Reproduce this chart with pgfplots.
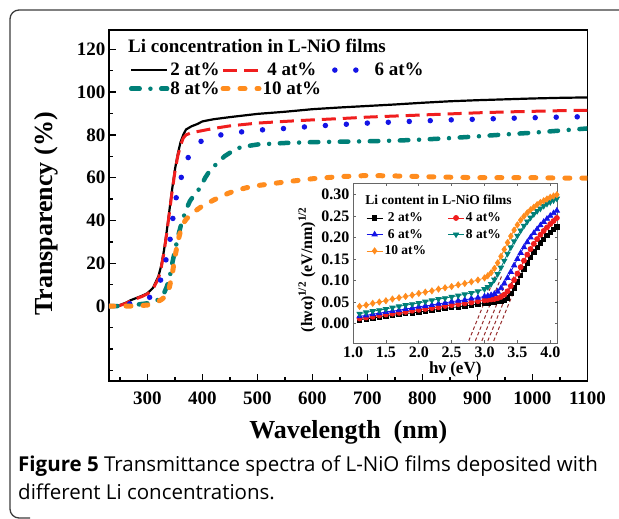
\documentclass[border=0pt]{standalone}
\usepackage{fontspec}
\setmainfont{Liberation Serif}
\newfontfamily\capfont{Open Sans}
\usepackage{pgfplots}
\pgfplotsset{compat=1.18}
\definecolor{cred}{RGB}{240,30,30}
\definecolor{cblue}{RGB}{20,20,230}
\definecolor{cteal}{RGB}{0,128,120}
\definecolor{corange}{RGB}{255,140,30}
\definecolor{cbrown}{RGB}{150,45,45}
\definecolor{cframe}{RGB}{60,60,60}
\begin{document}
\begin{tikzpicture}[x=1pt,y=1pt]
\useasboundingbox (0,0) rectangle (619,519);
\draw[line width=1.3pt, cframe, rounded corners=9pt] (640,509) -- (10,509) -- (10,1) -- (30,1);
\begin{axis}[
  at={(109pt,138pt)}, anchor=south west, scale only axis,
  width=478.5pt, height=351pt,
  xmin=230, xmax=1100, ymin=-35, ymax=129,
  axis line style={line width=1.6pt},
  xtick={300,400,...,1100}, minor xtick={250,350,...,1050},
  ytick={0,20,...,120}, minor ytick={-30,-20,-10,10,30,50,70,90,110},
  tick align=inside, xtick pos=bottom, ytick pos=left,
  major tick length=7pt, minor tick length=4pt,
  every tick/.style={line width=1.4pt, black},
  /pgf/number format/assume math mode=true,
  /pgf/number format/set thousands separator={},
  ticklabel style={font=\fontsize{19}{19}\selectfont\bfseries},
  xticklabel style={yshift=-7pt},
  xlabel={Wavelength\ \ (nm)}, ylabel={Transparency (\%)},
  xlabel style={at={(axis description cs:0.5,-0.145)}, anchor=center, font=\fontsize{26}{26}\selectfont\bfseries},
  ylabel style={at={(axis description cs:-0.132,0.476)}, anchor=center, font=\fontsize{26}{26}\selectfont\bfseries},
  legend columns=3,
  legend style={draw=none, fill=none, at={(axis description cs:0.035,0.915)}, anchor=north west,
    font=\fontsize{19}{19}\selectfont\bfseries, row sep=2.5pt,
    nodes={inner sep=1pt},
    column 2/.style={column sep=38pt}, column 4/.style={column sep=32pt}},
  legend image code/.code={\draw[#1] (0pt,0pt) -- (36pt,0pt);},
  clip=true,
]
\addplot[black, line width=2.2pt] coordinates {(230,0)(240,0)(250,0.5)(260,1.5)(270,2.8)(280,3.8)(290,4.8)(300,6)(310,8.5)(320,14)(325,19)(330,26)(335,35)(340,45)(345,55)(350,64)(355,71)(360,76.5)(365,80)(370,82.5)(380,84)(390,85)(400,86.3)(420,87.3)(450,88.3)(500,89.8)(550,90.8)(600,92)(650,92.8)(700,93.5)(750,94.2)(800,95)(850,95.7)(900,96.2)(950,96.6)(1000,97)(1050,97.3)(1100,97.5)};
\addlegendentry{2 at\%}
\addplot[cred, line width=3pt, dash pattern=on 14pt off 7pt] coordinates {(245,0)(250,0.3)(260,1.2)(270,2.5)(280,3.5)(290,4.5)(300,5.7)(310,8)(320,13)(325,18)(330,25)(335,34)(340,44)(345,54)(350,63)(355,70)(360,75)(365,78.5)(370,80)(380,81)(390,81.5)(400,82)(420,83)(450,84.2)(500,85.5)(550,86.3)(600,87)(650,87.6)(700,88.3)(750,88.8)(800,89.3)(850,89.8)(900,90.3)(950,90.7)(1000,91)(1050,91.3)(1100,91.5)};
\addlegendentry{4 at\%\hspace*{10pt}}
\addplot[cblue, line width=5.5pt, line cap=round, dash pattern=on 0pt off 21pt] coordinates {(230,0)(250,0)(260,0.5)(270,1.3)(280,2)(290,2.8)(300,3.5)(310,5)(315,7)(320,9.5)(325,13)(330,18)(335,23)(340,29)(345,39)(350,48)(355,54)(360,59)(365,63)(370,67)(375,70)(380,72.5)(390,75.5)(400,77.5)(420,79.3)(450,80.8)(500,82.2)(550,83)(600,84)(650,84.8)(700,85.5)(750,86)(800,86.5)(850,87)(900,87.3)(950,87.7)(1000,88)(1050,88.3)(1100,88.5)};
\addlegendentry{6 at\%}
\addplot[cteal, line width=4.5pt, line cap=round, dash pattern=on 8.5pt off 10.75pt on 0pt off 10.75pt] coordinates {(230,0)(250,0)(270,0.3)(290,1)(300,1.3)(310,2)(320,3)(325,4)(330,6)(335,9)(340,13)(345,20)(350,26)(355,32)(360,37)(365,41)(370,45)(377,49)(385,52)(395,55)(405,60)(415,64)(426,66.5)(440,70)(455,72.5)(470,74.3)(500,75.5)(550,76.2)(600,76.6)(650,76.8)(700,77)(750,77.3)(800,77.8)(850,78.5)(900,79.3)(950,80.2)(1000,81)(1050,82)(1100,83)};
\addlegendentry{8 at\%}
\addplot[corange, line width=5pt, line cap=round, dash pattern=on 5pt off 12pt] coordinates {(230,0)(260,0)(280,0)(300,0.5)(310,1.5)(320,2.3)(325,3)(330,4)(335,6)(340,9)(345,15)(350,23)(355,30)(360,35)(365,38.5)(370,40.5)(380,43)(390,45)(400,46.8)(420,49.5)(440,52)(460,54)(480,55.3)(500,56.3)(550,58)(600,59.5)(650,60.5)(700,61)(750,60.8)(800,60.5)(850,60.2)(900,60)(950,60)(1000,60)(1050,59.8)(1100,59.8)};
\addlegendentry{10 at\%\hspace*{10pt}}
\node[anchor=west, inner sep=0pt, font=\fontsize{19}{19}\selectfont\bfseries] at (axis description cs:0.0397,0.955) {Li concentration in L-NiO films};
\end{axis}
\begin{axis}[
  at={(353pt,176pt)}, anchor=south west, scale only axis,
  width=204.5pt, height=159.5pt,
  xmin=1.0, xmax=4.11, ymin=-0.045, ymax=0.325,
  axis line style={line width=0.8pt, black!60},
  xtick={1.0,1.5,...,4.0}, ytick={0,0.05,...,0.30},
  tick align=inside, major tick length=2.5pt,
  every tick/.style={line width=0.6pt, black!60},
  /pgf/number format/assume math mode=true,
  ticklabel style={font=\fontsize{16}{16}\selectfont\bfseries},
  xticklabel style={/pgf/number format/.cd, fixed, fixed zerofill, precision=1},
  yticklabel style={/pgf/number format/.cd, fixed, fixed zerofill, precision=2},
  xlabel={hν (eV)}, ylabel={(hνα)\textsuperscript{1/2} (eV/nm)\textsuperscript{1/2}},
  xlabel style={at={(axis description cs:0.5,-0.165)}, anchor=center, font=\fontsize{17}{17}\selectfont\bfseries},
  ylabel style={at={(axis description cs:-0.225,0.46)}, anchor=center, font=\fontsize{16}{16}\selectfont\bfseries},
  legend columns=2,
  legend style={draw=none, fill=none, at={(axis description cs:0.049,0.84)}, anchor=north west,
    font=\fontsize{13.5}{13.5}\selectfont\bfseries, row sep=3pt, nodes={inner sep=1.5pt}},
  /tikz/every even column/.append style={column sep=20pt},
  legend image code/.code={\draw[mark repeat=2, mark phase=2, #1] plot coordinates {(0pt,0pt) (8pt,0pt) (16pt,0pt)};},
]
\addplot[black, line width=0.8pt, mark=square*, mark size=2.2pt] coordinates {(1.1,.009)(1.2,.011)(1.3,.013)(1.4,.015)(1.5,.017)(1.6,.019)(1.7,.021)(1.8,.023)(1.9,.025)(2.0,.027)(2.1,.029)(2.2,.031)(2.3,.033)(2.4,.035)(2.5,.037)(2.6,.039)(2.7,.041)(2.8,.043)(2.9,.045)(3.0,.047)(3.05,.048)(3.1,.049)(3.15,.050)(3.2,.051)(3.25,.052)(3.3,.054)(3.35,.060)(3.4,.070)(3.45,.083)(3.5,.097)(3.55,.112)(3.6,.127)(3.65,.141)(3.7,.154)(3.75,.166)(3.8,.177)(3.85,.187)(3.9,.196)(3.95,.204)(4.0,.211)(4.05,.218)(4.1,.224)};
\addlegendentry{2 at\%}
\addplot[cred, line width=0.8pt, mark=*, mark size=2.5pt] coordinates {(1.1,.012)(1.2,.014)(1.3,.016)(1.4,.019)(1.5,.021)(1.6,.023)(1.7,.025)(1.8,.027)(1.9,.030)(2.0,.032)(2.1,.034)(2.2,.036)(2.3,.038)(2.4,.041)(2.5,.043)(2.6,.045)(2.7,.047)(2.8,.049)(2.9,.052)(3.0,.054)(3.05,.055)(3.1,.056)(3.15,.057)(3.2,.059)(3.25,.062)(3.3,.067)(3.35,.075)(3.4,.087)(3.45,.101)(3.5,.116)(3.55,.131)(3.6,.146)(3.65,.160)(3.7,.173)(3.75,.185)(3.8,.196)(3.85,.206)(3.9,.215)(3.95,.223)(4.0,.231)(4.05,.238)(4.1,.245)};
\addlegendentry{4 at\%}
\addplot[cblue, line width=0.8pt, mark=triangle*, mark size=3pt] coordinates {(1.1,.017)(1.2,.019)(1.3,.022)(1.4,.024)(1.5,.027)(1.6,.029)(1.7,.031)(1.8,.034)(1.9,.036)(2.0,.039)(2.1,.041)(2.2,.043)(2.3,.046)(2.4,.048)(2.5,.051)(2.6,.053)(2.7,.055)(2.8,.058)(2.9,.060)(3.0,.063)(3.05,.064)(3.1,.066)(3.15,.069)(3.2,.074)(3.25,.082)(3.3,.093)(3.35,.106)(3.4,.120)(3.45,.135)(3.5,.150)(3.55,.164)(3.6,.177)(3.65,.189)(3.7,.200)(3.75,.210)(3.8,.219)(3.85,.228)(3.9,.236)(3.95,.243)(4.0,.250)(4.05,.256)(4.1,.262)};
\addlegendentry{6 at\%}
\addplot[cteal, line width=0.8pt, mark=triangle*, mark size=3pt, mark options={rotate=180}] coordinates {(1.1,.023)(1.2,.026)(1.3,.029)(1.4,.031)(1.5,.034)(1.6,.037)(1.7,.040)(1.8,.043)(1.9,.045)(2.0,.048)(2.1,.051)(2.2,.054)(2.3,.057)(2.4,.059)(2.5,.062)(2.6,.065)(2.7,.068)(2.8,.071)(2.9,.075)(3.0,.080)(3.05,.085)(3.1,.092)(3.15,.102)(3.2,.115)(3.25,.130)(3.3,.146)(3.35,.162)(3.4,.177)(3.45,.191)(3.5,.204)(3.55,.216)(3.6,.227)(3.65,.237)(3.7,.246)(3.75,.254)(3.8,.261)(3.85,.267)(3.9,.273)(3.95,.278)(4.0,.282)(4.05,.286)(4.1,.290)};
\addlegendentry{8 at\%}
\addplot[corange, line width=0.8pt, mark=diamond*, mark size=3pt] coordinates {(1.1,.040)(1.2,.043)(1.3,.047)(1.4,.050)(1.5,.053)(1.6,.057)(1.7,.060)(1.8,.063)(1.9,.066)(2.0,.070)(2.1,.073)(2.2,.076)(2.3,.080)(2.4,.083)(2.5,.086)(2.6,.090)(2.7,.093)(2.8,.097)(2.9,.101)(3.0,.106)(3.05,.111)(3.1,.118)(3.15,.128)(3.2,.141)(3.25,.156)(3.3,.172)(3.35,.188)(3.4,.203)(3.45,.217)(3.5,.229)(3.55,.240)(3.6,.249)(3.65,.257)(3.7,.264)(3.75,.270)(3.8,.276)(3.85,.281)(3.9,.285)(3.95,.289)(4.0,.293)(4.05,.296)(4.1,.299)};
\addlegendentry{10 at\%}
\addplot[cbrown, line width=1pt, dash pattern=on 3.5pt off 2.5pt, forget plot] coordinates {(2.76,-0.04)(3.16,0.11)};
\addplot[cbrown, line width=1pt, dash pattern=on 3.5pt off 2.5pt, forget plot] coordinates {(2.86,-0.04)(3.26,0.11)};
\addplot[cbrown, line width=1pt, dash pattern=on 3.5pt off 2.5pt, forget plot] coordinates {(2.96,-0.04)(3.36,0.11)};
\addplot[cbrown, line width=1pt, dash pattern=on 3.5pt off 2.5pt, forget plot] coordinates {(3.05,-0.04)(3.45,0.11)};
\addplot[cbrown, line width=1pt, dash pattern=on 3.5pt off 2.5pt, forget plot] coordinates {(3.14,-0.04)(3.54,0.11)};
\node[anchor=west, inner sep=0pt, font=\fontsize{13.5}{13.5}\selectfont\bfseries] at (axis description cs:0.06,0.898) {Li content in L-NiO films};
\end{axis}
\node[anchor=west, inner sep=0pt, font=\capfont\fontsize{20.5}{20.5}\selectfont] at (18,53) {\textbf{Figure 5} Transmittance spectra of L-NiO films deposited with};
\node[anchor=west, inner sep=0pt, font=\capfont\fontsize{20.5}{20.5}\selectfont] at (18,27) {different Li concentrations.};
\end{tikzpicture}
\end{document}
